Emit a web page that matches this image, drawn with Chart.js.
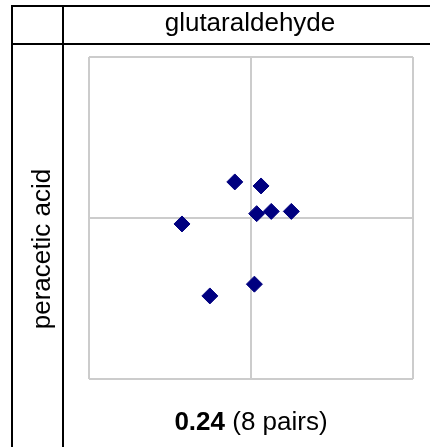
<!DOCTYPE html>
<html>
<head>
<meta charset="utf-8">
<script src="https://cdn.jsdelivr.net/npm/chart.js@4"></script>
<style>
  html, body { margin: 0; padding: 0; background: #fff; width: 430px; height: 447px; overflow: hidden; }
  body { position: relative; font-family: "Liberation Sans", Arial, sans-serif; }
  #c { position: absolute; left: 0; top: 0; }
  .ln { position: absolute; background: #000; }
  .txt { position: absolute; font-size: 26px; line-height: 26px; color: #000; white-space: nowrap; text-align: center; }
</style>
</head>
<body>
<canvas id="c" width="430" height="447"></canvas>
<div class="ln" style="left:11px; top:5px; width:419px; height:2px;"></div>
<div class="ln" style="left:11px; top:43px; width:419px; height:2px;"></div>
<div class="ln" style="left:11px; top:5px; width:2px; height:442px;"></div>
<div class="ln" style="left:62px; top:5px; width:2px; height:442px;"></div>
<div class="txt" id="colLabel" style="left:100px; width:300px; top:9px;"></div>
<div class="txt" id="rowLabel" style="left:-109px; width:300px; top:236px; transform: rotate(-90deg);"></div>
<div class="txt" id="stat" style="left:101px; width:300px; top:408px;"></div>
<script>
const columnVariable = "glutaraldehyde";
const rowVariable = "peracetic acid";
const correlation = "0.24";
const pairsLabel = "(8 pairs)";
const xValues = [-0.10, 0.062, 0.035, 0.125, 0.249, -0.426, 0.021, -0.254];
const yValues = [0.224, 0.199, 0.027, 0.041, 0.041, -0.037, -0.411, -0.484];
const axisTicks = [-1, 0, 1];

document.getElementById('colLabel').textContent = columnVariable;
document.getElementById('rowLabel').textContent = rowVariable;
const st = document.getElementById('stat');
const b = document.createElement('b'); b.textContent = correlation;
st.appendChild(b);
st.appendChild(document.createTextNode(' ' + pairsLabel));

const points = xValues.map((x, i) => ({ x: x, y: yValues[i] }));

const scaleOpts = () => ({
  type: 'linear',
  min: axisTicks[0],
  max: axisTicks[axisTicks.length - 1],
  afterBuildTicks: (s) => { s.ticks = axisTicks.map(v => ({ value: v })); },
  ticks: { display: false },
  grid: { color: '#cccccc', lineWidth: 2, drawTicks: false },
  border: { display: false }
});

new Chart(document.getElementById('c'), {
  type: 'scatter',
  data: {
    datasets: [{
      data: points,
      pointStyle: 'rectRot',
      pointRadius: 8,
      pointHoverRadius: 8,
      backgroundColor: '#000080',
      borderColor: '#000080',
      borderWidth: 1
    }]
  },
  options: {
    responsive: false,
    animation: false,
    devicePixelRatio: 1,
    layout: { padding: { left: 89, right: 17, top: 57, bottom: 68 } },
    plugins: { legend: { display: false }, tooltip: { enabled: false } },
    scales: { x: scaleOpts(), y: scaleOpts() }
  }
});
</script>
</body>
</html>
